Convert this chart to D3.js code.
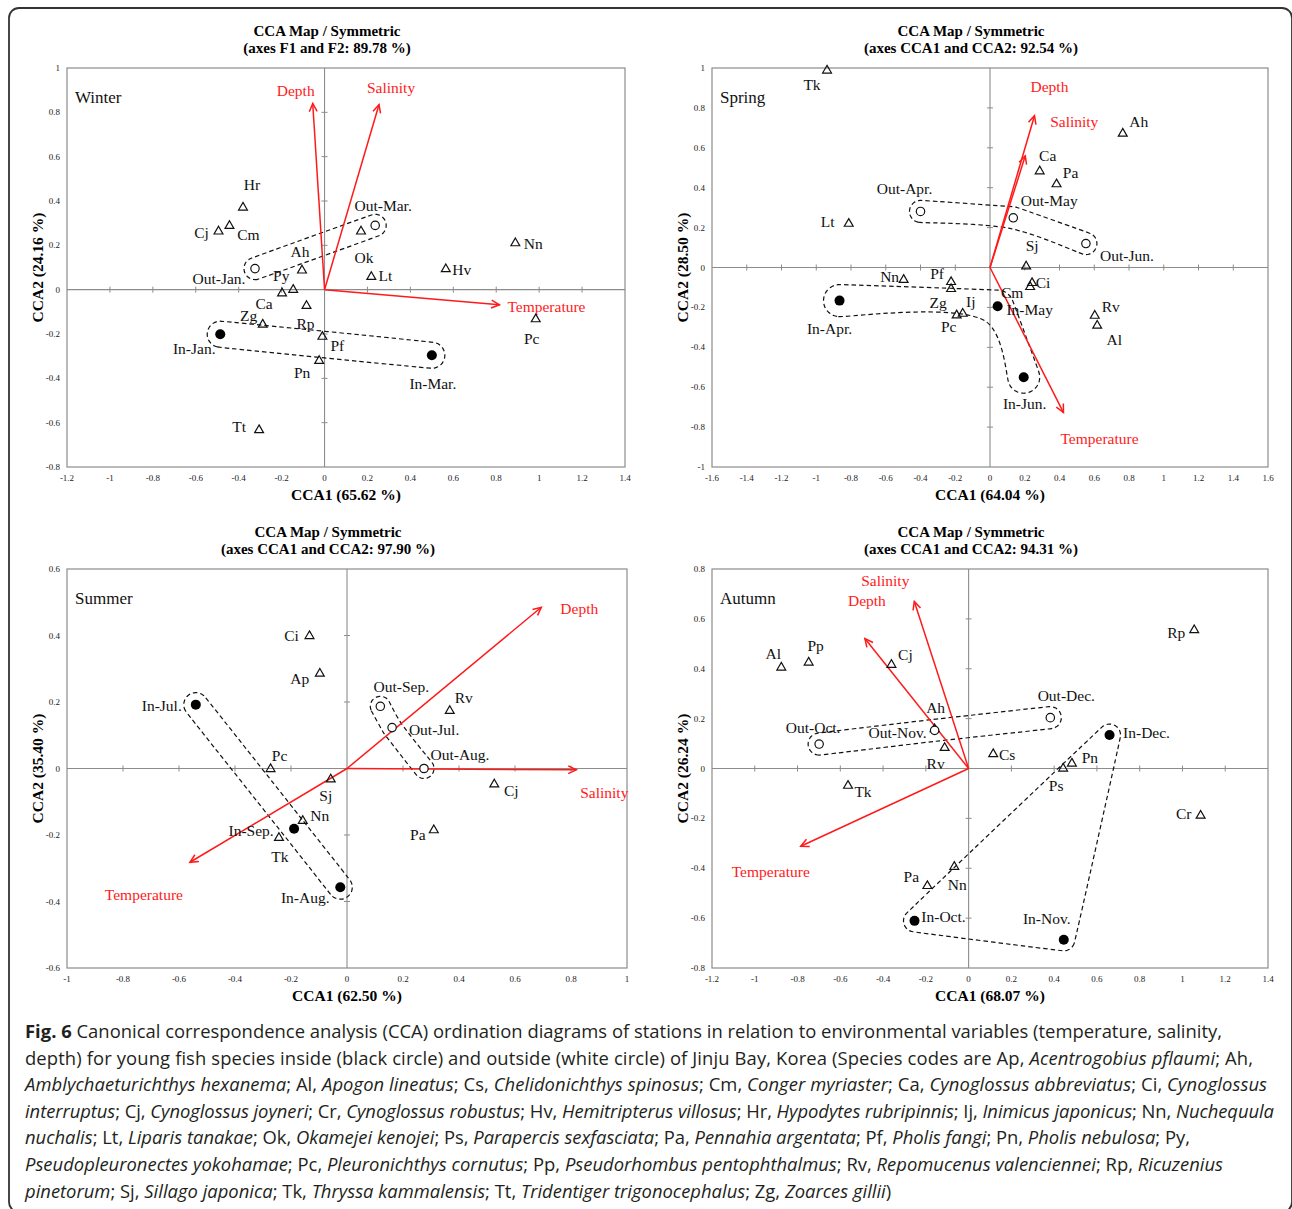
<!DOCTYPE html>
<html>
<head>
<meta charset="utf-8">
<script src="https://cdnjs.cloudflare.com/ajax/libs/d3/7.8.5/d3.min.js"></script>
<style>
  body{margin:0;background:#fff}
  svg{display:block}
</style>
</head>
<body>
<svg id="fig" width="1292" height="1209"></svg>
<script>
/* ---------- data ---------- */

// Winter
const WINTER_SPECIES = [
  {id:'Hr',x:-0.38,y:0.373},{id:'Cj',x:-0.494,y:0.265},{id:'Cm',x:-0.443,y:0.29},
  {id:'Ok',x:0.17,y:0.265},{id:'Nn',x:0.889,y:0.212},{id:'Ah',x:-0.105,y:0.089},
  {id:'Py',x:-0.146,y:0.002},{id:'Ca',x:-0.198,y:-0.014},{id:'Lt',x:0.218,y:0.06},
  {id:'Hv',x:0.565,y:0.095},{id:'Rp',x:-0.084,y:-0.071},{id:'Zg',x:-0.288,y:-0.155},
  {id:'Pf',x:-0.01,y:-0.21},{id:'Pn',x:-0.025,y:-0.319},{id:'Pc',x:0.984,y:-0.131},
  {id:'Tt',x:-0.305,y:-0.631}
];
const WINTER_IN  = [{id:'In-Jan.',x:-0.486,y:-0.201},{id:'In-Mar.',x:0.5,y:-0.296}];
const WINTER_OUT = [{id:'Out-Jan.',x:-0.324,y:0.095},{id:'Out-Mar.',x:0.236,y:0.29}];
const WINTER_ENV = [{id:'Temperature',x:0.815,y:-0.068},{id:'Depth',x:-0.055,y:0.84},{id:'Salinity',x:0.254,y:0.835}];
const WINTER_XTICKS = [-1.2,-1,-0.8,-0.6,-0.4,-0.2,0,0.2,0.4,0.6,0.8,1,1.2,1.4];
const WINTER_YTICKS = [-0.8,-0.6,-0.4,-0.2,0,0.2,0.4,0.6,0.8,1];

// Spring
const SPRING_SPECIES = [
  {id:'Tk',x:-0.938,y:0.99},{id:'Ah',x:0.764,y:0.674},{id:'Ca',x:0.286,y:0.485},
  {id:'Pa',x:0.383,y:0.42},{id:'Lt',x:-0.813,y:0.222},{id:'Sj',x:0.208,y:0.008},
  {id:'Nn',x:-0.497,y:-0.059},{id:'Pf',x:-0.224,y:-0.07},{id:'Zg',x:-0.224,y:-0.105},
  {id:'Ci',x:0.242,y:-0.075},{id:'Cm',x:0.231,y:-0.095},{id:'Ij',x:-0.157,y:-0.229},
  {id:'Pc',x:-0.192,y:-0.237},{id:'Rv',x:0.603,y:-0.239},{id:'Al',x:0.617,y:-0.289}
];
const SPRING_IN  = [{id:'In-Apr.',x:-0.866,y:-0.166},{id:'In-May',x:0.044,y:-0.194},{id:'In-Jun.',x:0.194,y:-0.55}];
const SPRING_OUT = [{id:'Out-Apr.',x:-0.4,y:0.281},{id:'Out-May',x:0.134,y:0.249},{id:'Out-Jun.',x:0.552,y:0.12}];
const SPRING_ENV = [{id:'Depth',x:0.256,y:0.761},{id:'Salinity',x:0.203,y:0.56},{id:'Temperature',x:0.423,y:-0.727}];
const SPRING_XTICKS = [-1.6,-1.4,-1.2,-1,-0.8,-0.6,-0.4,-0.2,0,0.2,0.4,0.6,0.8,1,1.2,1.4,1.6];
const SPRING_YTICKS = [-1,-0.8,-0.6,-0.4,-0.2,0,0.2,0.4,0.6,0.8,1];

// Summer
const SUMMER_SPECIES = [
  {id:'Ci',x:-0.134,y:0.4},{id:'Ap',x:-0.097,y:0.287},{id:'Rv',x:0.367,y:0.175},
  {id:'Pc',x:-0.273,y:0.0},{id:'Sj',x:-0.058,y:-0.031},{id:'Cj',x:0.526,y:-0.046},
  {id:'Nn',x:-0.158,y:-0.156},{id:'Tk',x:-0.243,y:-0.207},{id:'Pa',x:0.31,y:-0.184}
];
const SUMMER_IN  = [{id:'In-Jul.',x:-0.54,y:0.192},{id:'In-Sep.',x:-0.189,y:-0.181},{id:'In-Aug.',x:-0.024,y:-0.357}];
const SUMMER_OUT = [{id:'Out-Sep.',x:0.119,y:0.187},{id:'Out-Jul.',x:0.161,y:0.123},{id:'Out-Aug.',x:0.275,y:0.0}];
const SUMMER_ENV = [{id:'Depth',x:0.694,y:0.485},{id:'Salinity',x:0.819,y:-0.004},{id:'Temperature',x:-0.561,y:-0.282}];
const SUMMER_XTICKS = [-1,-0.8,-0.6,-0.4,-0.2,0,0.2,0.4,0.6,0.8,1];
const SUMMER_YTICKS = [-0.6,-0.4,-0.2,0,0.2,0.4,0.6];

// Autumn
const AUTUMN_SPECIES = [
  {id:'Rp',x:1.055,y:0.557},{id:'Al',x:-0.876,y:0.407},{id:'Pp',x:-0.748,y:0.427},
  {id:'Cj',x:-0.361,y:0.418},{id:'Ah',x:-0.159,y:0.16},{id:'Rv',x:-0.112,y:0.085},
  {id:'Cs',x:0.115,y:0.06},{id:'Pn',x:0.483,y:0.022},{id:'Ps',x:0.442,y:0.002},
  {id:'Tk',x:-0.564,y:-0.067},{id:'Cr',x:1.085,y:-0.187},{id:'Nn',x:-0.067,y:-0.392},
  {id:'Pa',x:-0.193,y:-0.469}
];
const AUTUMN_IN  = [{id:'In-Oct.',x:-0.253,y:-0.611},{id:'In-Nov.',x:0.445,y:-0.687},{id:'In-Dec.',x:0.659,y:0.134}];
const AUTUMN_OUT = [{id:'Out-Oct.',x:-0.699,y:0.098},{id:'Out-Nov.',x:-0.159,y:0.153},{id:'Out-Dec.',x:0.382,y:0.204}];
const AUTUMN_ENV = [{id:'Salinity',x:-0.254,y:0.67},{id:'Depth',x:-0.485,y:0.521},{id:'Temperature',x:-0.785,y:-0.312}];
const AUTUMN_XTICKS = [-1.2,-1,-0.8,-0.6,-0.4,-0.2,0,0.2,0.4,0.6,0.8,1,1.2,1.4];
const AUTUMN_YTICKS = [-0.8,-0.6,-0.4,-0.2,0,0.2,0.4,0.6,0.8];

/* ---------- label placement (px offset of label centre from its mark) ---------- */
const WINTER_LAB = {Hr:[9,-22],Cj:[-17,2],Cm:[19,9],Ok:[3,27],Nn:[18,1],Ah:[-2,-18],Py:[-12,-14],
  Ca:[-18,11],Lt:[14,-1],Hv:[16,1],Rp:[-1,18],Zg:[-14,-9],Pf:[15,9],Pn:[-17,12],Pc:[-4,20],Tt:[-20,-3],
  'Out-Mar.':[8,-20],'Out-Jan.':[-36,10],'In-Jan.':[-26,14],'In-Mar.':[1,28],
  Depth:[-17,-13],Salinity:[12,-17],Temperature:[47,2]};
const SPRING_LAB = {Tk:[-15,15],Ah:[16,-12],Ca:[8,-15],Pa:[14,-11],Lt:[-21,-2],Sj:[6,-20],Nn:[-14,-3],
  Pf:[-14,-8],Zg:[-13,14],Ci:[11,0],Cm:[-18,6],Ij:[8,-12],Pc:[-8,12],Rv:[16,-9],Al:[17,14],
  'Out-Apr.':[-16,-23],'Out-May':[36,-17],'Out-Jun.':[41,12],'In-Apr.':[-10,28],'In-May':[32,3],'In-Jun.':[1,26],
  Depth:[15,-29],Salinity:[49,-34],Temperature:[36,26]};
const SUMMER_LAB = {Ci:[-18,0],Ap:[-20,5],Rv:[14,-13],Pc:[9,-13],Sj:[-5,17],Cj:[17,7],Nn:[17,-5],Tk:[1,19],Pa:[-16,5],
  'In-Jul.':[-34,1],'Out-Sep.':[21,-20],'Out-Jul.':[42,2],'Out-Aug.':[36,-14],'In-Sep.':[-43,2],'In-Aug.':[-35,10],
  Depth:[38,1],Salinity:[28,23],Temperature:[-46,32]};
const AUTUMN_LAB = {Rp:[-18,3],Al:[-8,-14],Pp:[7,-17],Cj:[14,-10],Ah:[1,-21],Rv:[-9,16],Cs:[14,1],Pn:[18,-6],
  Ps:[-7,17],Tk:[15,6],Cr:[-17,-2],Nn:[3,18],Pa:[-16,-9],
  'Out-Dec.':[16,-22],'Out-Nov.':[-37,2],'Out-Oct.':[-6,-17],'In-Dec.':[37,-3],'In-Oct.':[29,-4],'In-Nov.':[-17,-21],
  Salinity:[-29,-21],Depth:[2,-38],Temperature:[-30,25]};

const PANELS = [
  {season:'Winter', box:[67,68,625,467], xDom:[-1.2,1.4], yDom:[-0.8,1], xTicks:WINTER_XTICKS, yTicks:WINTER_YTICKS,
   sub:'(axes F1 and F2: 89.78 %)', xLab:'CCA1 (65.62 %)', yLab:'CCA2 (24.16 %)',
   species:WINTER_SPECIES, inSt:WINTER_IN, outSt:WINTER_OUT, env:WINTER_ENV, lab:WINTER_LAB,
   inPad:13, outPad:11, inHull:false},
  {season:'Spring', box:[712,68,1268,467], xDom:[-1.6,1.6], yDom:[-1,1], xTicks:SPRING_XTICKS, yTicks:SPRING_YTICKS,
   sub:'(axes CCA1 and CCA2: 92.54 %)', xLab:'CCA1 (64.04 %)', yLab:'CCA2 (28.50 %)',
   species:SPRING_SPECIES, inSt:SPRING_IN, outSt:SPRING_OUT, env:SPRING_ENV, lab:SPRING_LAB,
   inPad:16, outPad:11, inHull:false},
  {season:'Summer', box:[67,569,627,968], xDom:[-1,1], yDom:[-0.6,0.6], xTicks:SUMMER_XTICKS, yTicks:SUMMER_YTICKS,
   sub:'(axes CCA1 and CCA2: 97.90 %)', xLab:'CCA1 (62.50 %)', yLab:'CCA2 (35.40 %)',
   species:SUMMER_SPECIES, inSt:SUMMER_IN, outSt:SUMMER_OUT, env:SUMMER_ENV, lab:SUMMER_LAB,
   inPad:12, outPad:10, inHull:false},
  {season:'Autumn', box:[712,569,1268,968], xDom:[-1.2,1.4], yDom:[-0.8,0.8], xTicks:AUTUMN_XTICKS, yTicks:AUTUMN_YTICKS,
   sub:'(axes CCA1 and CCA2: 94.31 %)', xLab:'CCA1 (68.07 %)', yLab:'CCA2 (26.24 %)',
   species:AUTUMN_SPECIES, inSt:AUTUMN_IN, outSt:AUTUMN_OUT, env:AUTUMN_ENV, lab:AUTUMN_LAB,
   inPad:11, outPad:11, inHull:true}
];

const CAPTION = [
  "|Fig. 6| Canonical correspondence analysis (CCA) ordination diagrams of stations in relation to environmental variables (temperature, salinity,",
  "depth) for young fish species inside (black circle) and outside (white circle) of Jinju Bay, Korea (Species codes are Ap, _Acentrogobius pflaumi_; Ah,",
  "_Amblychaeturichthys hexanema_; Al, _Apogon lineatus_; Cs, _Chelidonichthys spinosus_; Cm, _Conger myriaster_; Ca, _Cynoglossus abbreviatus_; Ci, _Cynoglossus_",
  "_interruptus_; Cj, _Cynoglossus joyneri_; Cr, _Cynoglossus robustus_; Hv, _Hemitripterus villosus_; Hr, _Hypodytes rubripinnis_; Ij, _Inimicus japonicus_; Nn, _Nuchequula_",
  "_nuchalis_; Lt, _Liparis tanakae_; Ok, _Okamejei kenojei_; Ps, _Parapercis sexfasciata_; Pa, _Pennahia argentata_; Pf, _Pholis fangi_; Pn, _Pholis nebulosa_; Py,",
  "_Pseudopleuronectes yokohamae_; Pc, _Pleuronichthys cornutus_; Pp, _Pseudorhombus pentophthalmus_; Rv, _Repomucenus valenciennei_; Rp, _Ricuzenius_",
  "_pinetorum_; Sj, _Sillago japonica_; Tk, _Thryssa kammalensis_; Tt, _Tridentiger trigonocephalus_; Zg, _Zoarces gillii_)"
];
const CAPTION_W = [1197,1228,1242,1249,1165,1198,null];

/* ---------- drawing ---------- */
const SERIF = '"Liberation Serif","Times New Roman",serif';
const SANS = '"Open Sans","Noto Sans",sans-serif';
const RED = '#ff1a1a', AXIS = '#8c8c8c';
const svg = d3.select('#fig');

// outer frame
svg.append('rect').attr('x',9).attr('y',8).attr('width',1283).attr('height',1204)
  .attr('rx',10).attr('fill','none').attr('stroke','#333').attr('stroke-width',1.8);

const fmt = v => String(+v.toFixed(1));

// outline around a group of stations: padded hull or buffered polyline
function outline(pts, r, closed){
  let ring;
  if(closed){
    ring = d3.polygonHull(pts);
    if(d3.polygonArea(ring) > 0) ring = ring.slice().reverse();
  } else {
    ring = pts.concat(pts.slice(1,-1).reverse());
  }
  const n = ring.length, out = [];
  const unit = (p,q) => {const dx=p[0]-q[0], dy=p[1]-q[1], l=Math.hypot(dx,dy)||1; return [dx/l,dy/l];};
  for(let i=0;i<n;i++){
    const a=ring[(i-1+n)%n], b=ring[i], c=ring[(i+1)%n];
    const d1=unit(b,a), d2=unit(c,b);
    const n1=[d1[1],-d1[0]], n2=[d2[1],-d2[0]];
    const a1=Math.atan2(n1[1],n1[0]);
    let sw=Math.atan2(n2[1],n2[0])-a1;
    while(sw<0) sw+=2*Math.PI;
    while(sw>=2*Math.PI) sw-=2*Math.PI;
    if(sw<=Math.PI+1e-6){
      const m=Math.max(2,Math.ceil(sw/0.12));
      for(let k=0;k<=m;k++){
        const t=a1+sw*k/m;
        out.push([b[0]+r*Math.cos(t), b[1]+r*Math.sin(t)]);
      }
    } else {
      const half=(2*Math.PI-sw)/2;
      let bx=n1[0]+n2[0], by=n1[1]+n2[1];
      const bl=Math.hypot(bx,by)||1;
      const len=r/Math.max(0.3,Math.cos(half));
      out.push([b[0]+bx/bl*len, b[1]+by/bl*len]);
    }
  }
  return out;
}

const triangle = d3.symbol().type(d3.symbolTriangle).size(34);

PANELS.forEach(p => {
  const [x0,y0,x1,y1] = p.box;
  const x = d3.scaleLinear().domain(p.xDom).range([x0,x1]);
  const y = d3.scaleLinear().domain(p.yDom).range([y1,y0]);
  const g = svg.append('g');
  const cx = (x0+x1)/2;

  // titles
  g.append('text').attr('x',cx-19).attr('y',y0-32).attr('text-anchor','middle')
    .attr('font-family',SERIF).attr('font-weight','bold').attr('font-size','15px').text('CCA Map / Symmetric');
  g.append('text').attr('x',cx-19).attr('y',y0-15).attr('text-anchor','middle')
    .attr('font-family',SERIF).attr('font-weight','bold').attr('font-size','15px').text(p.sub);
  g.append('text').attr('x',cx).attr('y',y1+33).attr('text-anchor','middle')
    .attr('font-family',SERIF).attr('font-weight','bold').attr('font-size','15.5px').text(p.xLab);
  g.append('text').attr('transform',`translate(${x0-30},${(y0+y1)/2}) rotate(-90)`)
    .attr('text-anchor','middle').attr('dominant-baseline','central')
    .attr('font-family',SERIF).attr('font-weight','bold').attr('font-size','15.5px').text(p.yLab);

  // frame
  g.append('rect').attr('x',x0).attr('y',y0).attr('width',x1-x0).attr('height',y1-y0)
    .attr('fill','none').attr('stroke',AXIS).attr('stroke-width',1.2);

  // tick labels along the frame
  g.selectAll('.xt').data(p.xTicks).join('text')
    .attr('x',d=>x(d)).attr('y',y1+14).attr('text-anchor','middle')
    .attr('font-family',SERIF).attr('font-size','9px').attr('fill','#222').text(fmt);
  g.selectAll('.yt').data(p.yTicks).join('text')
    .attr('x',x0-7).attr('y',d=>y(d)).attr('text-anchor','end').attr('dominant-baseline','central')
    .attr('font-family',SERIF).attr('font-size','9px').attr('fill','#222').text(fmt);

  // zero axes with crossing ticks
  g.append('line').attr('x1',x0).attr('x2',x1).attr('y1',y(0)).attr('y2',y(0))
    .attr('stroke',AXIS).attr('stroke-width',1.1);
  g.append('line').attr('x1',x(0)).attr('x2',x(0)).attr('y1',y0).attr('y2',y1)
    .attr('stroke',AXIS).attr('stroke-width',1.1);
  g.selectAll('.xk').data(p.xTicks.filter(d=>d!==0 && d>p.xDom[0] && d<p.xDom[1])).join('line')
    .attr('x1',d=>x(d)).attr('x2',d=>x(d)).attr('y1',y(0)-3).attr('y2',y(0)+3)
    .attr('stroke',AXIS).attr('stroke-width',1);
  g.selectAll('.yk').data(p.yTicks.filter(d=>d!==0 && d>p.yDom[0] && d<p.yDom[1])).join('line')
    .attr('y1',d=>y(d)).attr('y2',d=>y(d)).attr('x1',x(0)-3).attr('x2',x(0)+3)
    .attr('stroke',AXIS).attr('stroke-width',1);

  // season name
  g.append('text').attr('x',x0+8).attr('y',y0+35).attr('font-family',SERIF)
    .attr('font-size','17px').attr('fill','#111').text(p.season);

  // group outlines (dashed)
  const px = d => [x(d.x), y(d.y)];
  const line = d3.line().curve(d3.curveCatmullRomClosed);
  [[p.inSt,p.inPad,p.inHull],[p.outSt,p.outPad,false]].forEach(([st,r,hull]) => {
    g.append('path').attr('d',line(outline(st.map(px),r,hull)))
      .attr('fill','none').attr('stroke','#111').attr('stroke-width',1.2)
      .attr('stroke-dasharray','4.5,3');
  });

  // environmental vectors
  p.env.forEach(e => {
    const X0=x(0), Y0=y(0), X=x(e.x), Y=y(e.y);
    const ang=Math.atan2(Y-Y0,X-X0), L=9, w=0.45;
    g.append('line').attr('x1',X0).attr('y1',Y0).attr('x2',X).attr('y2',Y)
      .attr('stroke',RED).attr('stroke-width',1.5);
    g.append('path')
      .attr('d',`M${X-L*Math.cos(ang-w)},${Y-L*Math.sin(ang-w)}L${X},${Y}L${X-L*Math.cos(ang+w)},${Y-L*Math.sin(ang+w)}`)
      .attr('fill','none').attr('stroke',RED).attr('stroke-width',1.5);
    const o=p.lab[e.id]||[0,-12];
    g.append('text').attr('x',X+o[0]).attr('y',Y+o[1]).attr('text-anchor','middle')
      .attr('dominant-baseline','central').attr('font-family',SERIF).attr('font-size','15.5px')
      .attr('fill',RED).text(e.id);
  });

  // species (open triangles)
  g.selectAll('.sp').data(p.species).join('path')
    .attr('d',triangle).attr('transform',d=>`translate(${x(d.x)},${y(d.y)+0.5})`)
    .attr('fill','none').attr('stroke','#111').attr('stroke-width',1.2);
  // stations
  g.selectAll('.so').data(p.outSt).join('circle')
    .attr('cx',d=>x(d.x)).attr('cy',d=>y(d.y)).attr('r',4.2)
    .attr('fill','#fff').attr('stroke','#111').attr('stroke-width',1.2);
  g.selectAll('.si').data(p.inSt).join('circle')
    .attr('cx',d=>x(d.x)).attr('cy',d=>y(d.y)).attr('r',5)
    .attr('fill','#000');

  // labels
  const all = p.species.concat(p.outSt, p.inSt);
  g.selectAll('.lb').data(all).join('text')
    .attr('x',d=>x(d.x)+(p.lab[d.id]||[12,0])[0])
    .attr('y',d=>y(d.y)+(p.lab[d.id]||[12,0])[1])
    .attr('text-anchor','middle').attr('dominant-baseline','central')
    .attr('font-family',SERIF).attr('font-size','15.5px').attr('fill','#111')
    .text(d=>d.id);
});

/* ---------- caption ---------- */
const cap = svg.append('g').attr('font-family',SANS).attr('fill','#231f20');
const texts = CAPTION.map((ln,i) => {
  const t = cap.append('text').attr('x',25).attr('y',1038+i*26.6).attr('font-size','19px');
  // |...| = bold, _..._ = italic
  ln.split(/(\|[^|]*\||_[^_]*_)/).filter(s=>s.length).forEach(s => {
    const ts = t.append('tspan');
    if(s[0]==='|'){ ts.attr('font-weight','bold').text(s.slice(1,-1)); }
    else if(s[0]==='_'){ ts.attr('font-style','italic').text(s.slice(1,-1)); }
    else ts.text(s);
  });
  return t;
});
// match the line widths of the original typesetting
const ratios = texts.map((t,i)=>CAPTION_W[i] ? CAPTION_W[i]/t.node().getComputedTextLength() : null).filter(v=>v);
const k = d3.median(ratios);
texts.forEach((t,i) => {
  t.attr('font-size',(19*k).toFixed(2)+'px');
  if(CAPTION_W[i]) t.attr('textLength',CAPTION_W[i]).attr('lengthAdjust','spacing');
});
</script>
</body>
</html>
